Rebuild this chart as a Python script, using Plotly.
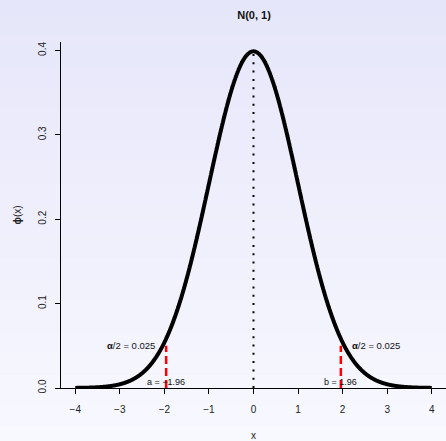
import numpy as np
import plotly.graph_objects as go

# Standard normal N(0, 1) with a two-sided alpha = 0.05 rejection region
mu = 0.0
sigma = 1.0
alpha = 0.05
crit_a = -1.96
crit_b = 1.96
x_ticks = [-4, -3, -2, -1, 0, 1, 2, 3, 4]
y_ticks = [0.0, 0.1, 0.2, 0.3, 0.4]

xs = np.linspace(-4, 4, 1601)
ys = np.exp(-0.5 * ((xs - mu) / sigma) ** 2) / (sigma * np.sqrt(2 * np.pi))
peak = 1.0 / (sigma * np.sqrt(2 * np.pi))

W, H = 446, 441
ML, MR, MT, MB = 61, 0, 42, 53
pw, ph = W - ML - MR, H - MT - MB

fig = go.Figure()

# density curve
fig.add_trace(go.Scatter(x=xs, y=ys, mode="lines",
                         line=dict(color="black", width=4, shape="spline"),
                         hoverinfo="skip", showlegend=False))
# dotted line at the mean
fig.add_trace(go.Scatter(x=[mu, mu], y=[0, peak], mode="lines",
                         line=dict(color="black", width=2, dash="2px,6.3px"),
                         showlegend=False))
# red dashed critical value markers
for c in (crit_a, crit_b):
    fig.add_trace(go.Scatter(x=[c, c], y=[0, 0.05], mode="lines",
                             line=dict(color="#ff0000", width=2.5, dash="8px,4px"),
                             showlegend=False))

font = "Liberation Sans, Arial, Helvetica, sans-serif"
ann_font = dict(family=font, size=9.5, color="#111")
annotations = [
    dict(x=-2.76, y=0.05, text=f"<b>α</b>/2 = {alpha/2:.3f}", showarrow=False,
         font=ann_font, xanchor="center", yanchor="middle"),
    dict(x=2.76, y=0.05, text=f"<b>α</b>/2 = {alpha/2:.3f}", showarrow=False,
         font=ann_font, xanchor="center", yanchor="middle"),
    dict(x=crit_a, y=0.0, text=f"a = \u2212{abs(crit_a):.2f}", showarrow=False,
         font=dict(family=font, size=9, color="#111"), xanchor="center", yanchor="bottom", yshift=-1),
    dict(x=crit_b, y=0.0, text=f"b = {crit_b:.2f}", showarrow=False,
         font=dict(family=font, size=9, color="#111"), xanchor="center", yanchor="bottom", yshift=-1),
]

# vertical background gradient: lavender at the top to ghost white at the bottom
shapes = []
n = 60
top = (230, 230, 250)
bot = (248, 248, 255)
y_lo = -MB / ph
y_hi = (ph + MT) / ph
for i in range(n):
    t = i / (n - 1)
    col = tuple(round(bot[k] + (top[k] - bot[k]) * t) for k in range(3))
    y0 = y_lo + (y_hi - y_lo) * i / n
    y1 = y_lo + (y_hi - y_lo) * (i + 1) / n + 0.002
    shapes.append(dict(type="rect", xref="paper", yref="paper",
                       x0=-ML / pw - 0.01, x1=1.01, y0=y0, y1=y1,
                       fillcolor=f"rgb{col}", line=dict(width=0), layer="below"))

fig.update_layout(
    width=W, height=H,
    margin=dict(l=ML, r=MR, t=MT, b=MB, pad=0),
    paper_bgcolor="rgb(240,240,252)",
    plot_bgcolor="rgba(0,0,0,0)",
    shapes=shapes,
    annotations=annotations,
    font=dict(family=font, size=10, color="#111"),
    title=dict(text="<b>N(0, 1)</b>", x=254 / W, xanchor="center",
               y=1 - 15 / H, yanchor="middle", font=dict(size=11, family=font, color="#111")),
    showlegend=False,
)
fig.update_xaxes(range=[-4.32, 4.32], tickvals=x_ticks, ticks="outside", ticklen=5,
                 tickwidth=1, tickcolor="black", showline=True, linecolor="black",
                 linewidth=1, showgrid=False, zeroline=False, ticklabelstandoff=7,
                 tickfont=dict(size=10, family=font, color="#222"),
                 title=dict(text="x", font=dict(size=10, family=font, color="#222"), standoff=17))
fig.update_yaxes(range=[0, 0.41], tickvals=y_ticks, tickformat=".1f", ticks="outside",
                 ticklen=5, tickwidth=1, tickcolor="black", showline=True,
                 linecolor="black", linewidth=1, showgrid=False, zeroline=False,
                 tickangle=-90, ticklabelstandoff=5,
                 tickfont=dict(size=10, family=font, color="#222"),
                 title=dict(text="<b>ϕ</b>(x)", font=dict(size=10, family=font, color="#222"),
                            standoff=13))

fig.write_html("out.html")
